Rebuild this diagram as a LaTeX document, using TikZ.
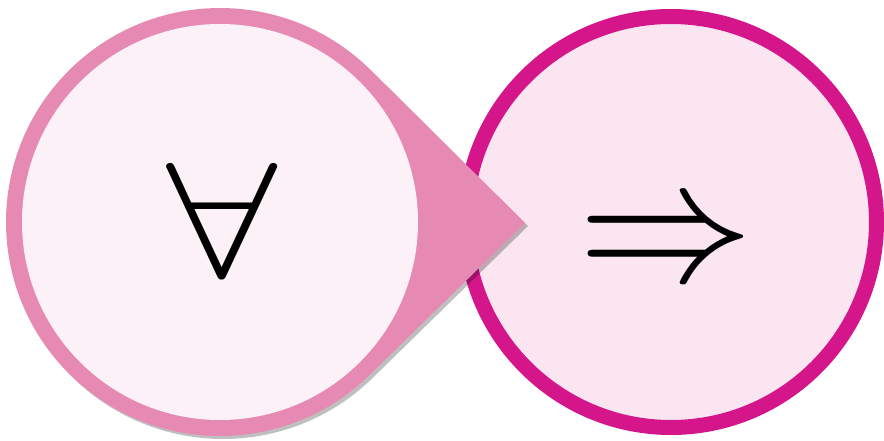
\documentclass[tikz,border=0pt]{standalone}
\usepackage{amsmath}
\usepackage{tikz}
\usetikzlibrary{calc, shadows}
\definecolor{rosering}{HTML}{E68AB4}
\definecolor{rosefill}{HTML}{FCF1F6}
\definecolor{plumring}{HTML}{D4168A}
\definecolor{plumfill}{HTML}{FAE5F0}

\begin{document}
\begin{tikzpicture}[
    x=1pt, y=-1pt,
    shade/.style={drop shadow={shadow xshift=3pt, shadow yshift=-3pt, opacity=0.25, fill=black}},
    ring/.style={circle, draw=plumring, line width=15pt, fill=plumfill, minimum size=411pt, inner sep=0pt},
    disc/.style={circle, fill=rosefill, minimum size=396pt, inner sep=0pt},
    sym/.style={inner sep=0pt}
]
    \useasboundingbox (0,0) rectangle (884,441);

    % Right circle
    \node[ring, shade] (thenring) at (671,222) {};
    \node[sym] (implies) at (666,248) {\scalebox{17.5}{$\Rightarrow$}};

    % Left circle with pointer
    \coordinate (allc) at (220,222);
    \coordinate (tip) at (525,223);
    \fill[rosering, shade]
      (tip) -- ($(allc)+(-45.4:214)$)
        arc[start angle=-45.4, end angle=-314.6, radius=214] -- cycle;
    \node[disc] (alldisc) at (allc) {};
    \node[sym] (forall) at (222,220) {\scalebox{20}[16.3]{$\forall$}};
\end{tikzpicture}
\end{document}
